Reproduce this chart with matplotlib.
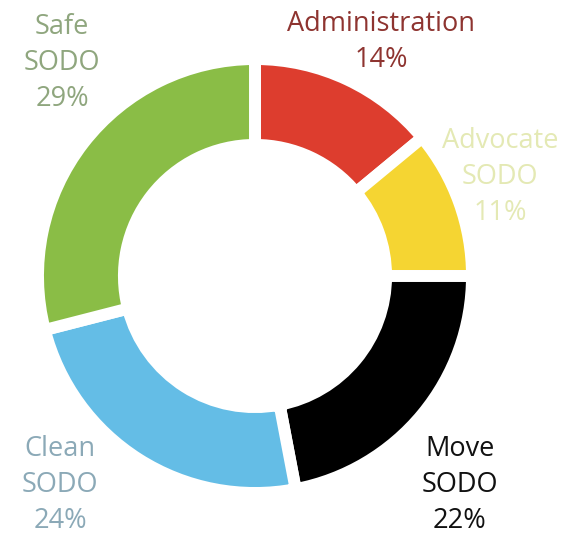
import matplotlib
matplotlib.use("Agg")
import matplotlib.pyplot as plt

plt.rcParams['font.family'] = ['Open Sans', 'DejaVu Sans']

# data, clockwise from the top
labels = ["Administration", "Advocate\nSODO", "Move\nSODO", "Clean\nSODO", "Safe\nSODO"]
shares = [14, 11, 22, 24, 29]
wedge_colors = ["#DD3D2E", "#F5D532", "#000000", "#64BDE6", "#8ABD46"]
text_colors = ["#8E3430", "#E4E9B4", "#111111", "#8BA9B7", "#8FA67E"]
# label centres in pixels (x from left, y from top)
label_pos = [(381, 42), (500, 177), (460, 485), (60, 485), (62, 63)]

W, H = 586, 540
cx, cy = 255, 276      # donut centre, pixels from top-left
R = 217.0              # pie radius in pixels (white stroke eats half the gap)

fig = plt.figure(figsize=(W / 100, H / 100), dpi=100)
ax = fig.add_axes([0, 0, 1, 1])
ax.pie(shares, colors=wedge_colors, startangle=90, counterclock=False,
       radius=1.0, wedgeprops=dict(width=0.396, edgecolor="white", linewidth=8.6))
ax.set_xlim(-cx / R, (W - cx) / R)
ax.set_ylim(-(H - cy) / R, cy / R)
ax.set_aspect("auto")
ax.axis("off")

for lab, val, col, (px, py) in zip(labels, shares, text_colors, label_pos):
    txt = f"{lab}\n{val}%"
    ax.text(px / W, 1 - py / H, txt, transform=fig.transFigure, ha="center", va="center",
            fontsize=19.5, color=col, linespacing=1.38, multialignment="center")

fig.savefig("out.png", dpi=100, facecolor="white")
